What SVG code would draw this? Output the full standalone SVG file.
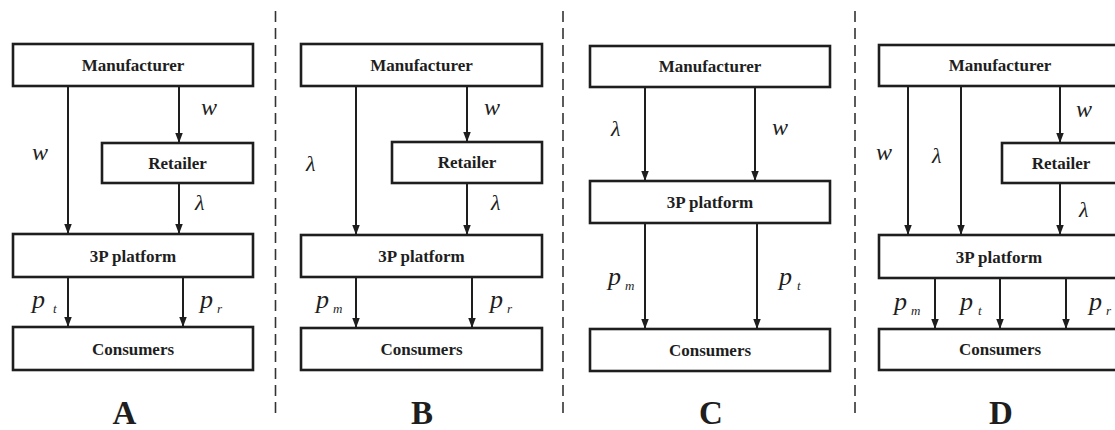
<svg xmlns="http://www.w3.org/2000/svg" width="1115" height="430" viewBox="0 0 1115 430" font-family="'Liberation Serif', 'Times New Roman', Times, serif">
  <style>
    .box { fill: #ffffff; stroke: #1e1e1e; stroke-width: 2.6; }
    .name { font-family: 'Liberation Serif', 'Times New Roman', Times, serif; font-weight: bold; font-size: 17px; fill: #1e1e1e; text-anchor: middle; }
    .flow { stroke: #1e1e1e; stroke-width: 2; fill: none; marker-end: url(#head); }
    .sep { stroke: #333333; stroke-width: 1.6; stroke-dasharray: 11 6; fill: none; }
    .v { font-family: 'Liberation Serif', 'Times New Roman', Times, serif; font-style: italic; font-size: 24px; fill: #1e1e1e; }
    .lam { font-size: 22px; }
    .p { font-size: 26px; }
    .sub { font-family: 'Liberation Serif', 'Times New Roman', Times, serif; font-style: italic; font-size: 13px; fill: #1e1e1e; }
    .tag { font-family: 'Liberation Serif', 'Times New Roman', Times, serif; font-weight: bold; font-size: 33px; fill: #1e1e1e; text-anchor: middle; }
  </style>
  <defs>
    <marker id="head" markerUnits="userSpaceOnUse" markerWidth="10" markerHeight="12" refX="12" refY="4.5" orient="auto" viewBox="0 0 12 9">
      <path d="M0,0 L12,4.5 L0,9 z" fill="#1e1e1e"/>
    </marker>
  </defs>

  <rect width="1115" height="430" fill="#ffffff"/>

  <!-- panel separators -->
  <g id="separators">
    <line class="sep" x1="275.5" y1="11" x2="275.5" y2="413"/>
    <line class="sep" x1="563" y1="11" x2="563" y2="413"/>
    <line class="sep" x1="855" y1="11" x2="855" y2="413"/>
  </g>

  <!-- connectors -->
  <g id="connectors">
    <!-- A -->
    <line class="flow" x1="68" y1="86" x2="68" y2="234"/>
    <line class="flow" x1="179" y1="86" x2="179" y2="143"/>
    <line class="flow" x1="179" y1="183" x2="179" y2="234"/>
    <line class="flow" x1="68" y1="277" x2="68" y2="327"/>
    <line class="flow" x1="183" y1="277" x2="183" y2="327"/>
    <!-- B -->
    <line class="flow" x1="356" y1="86" x2="356" y2="235"/>
    <line class="flow" x1="467" y1="86" x2="467" y2="142"/>
    <line class="flow" x1="467" y1="183" x2="467" y2="235"/>
    <line class="flow" x1="356" y1="277" x2="356" y2="328"/>
    <line class="flow" x1="472" y1="277" x2="472" y2="328"/>
    <!-- C -->
    <line class="flow" x1="645" y1="87" x2="645" y2="181"/>
    <line class="flow" x1="755" y1="87" x2="755" y2="181"/>
    <line class="flow" x1="645" y1="223" x2="645" y2="329"/>
    <line class="flow" x1="757" y1="223" x2="757" y2="329"/>
    <!-- D -->
    <line class="flow" x1="908" y1="86" x2="908" y2="235"/>
    <line class="flow" x1="961" y1="86" x2="961" y2="235"/>
    <line class="flow" x1="1060" y1="86" x2="1060" y2="143"/>
    <line class="flow" x1="1060" y1="183" x2="1060" y2="235"/>
    <line class="flow" x1="935" y1="278" x2="935" y2="329"/>
    <line class="flow" x1="1000" y1="278" x2="1000" y2="329"/>
    <line class="flow" x1="1066" y1="278" x2="1066" y2="329"/>
  </g>

  <!-- flow labels -->
  <g id="flow-labels">
    <!-- A -->
    <text class="v" x="32" y="160">w</text>
    <text class="v" x="201" y="115">w</text>
    <text class="v lam" x="195" y="210">λ</text>
    <text class="v p" x="32" y="308">p</text><text class="sub" x="53" y="313">t</text>
    <text class="v p" x="200" y="308">p</text><text class="sub" x="217" y="313">r</text>
    <!-- B -->
    <text class="v lam" x="306" y="171">λ</text>
    <text class="v" x="484" y="115">w</text>
    <text class="v lam" x="491" y="210">λ</text>
    <text class="v p" x="316" y="308">p</text><text class="sub" x="333" y="313">m</text>
    <text class="v p" x="490" y="308">p</text><text class="sub" x="507" y="313">r</text>
    <!-- C -->
    <text class="v lam" x="611" y="136">λ</text>
    <text class="v" x="772" y="135">w</text>
    <text class="v p" x="608" y="285">p</text><text class="sub" x="625" y="290">m</text>
    <text class="v p" x="779" y="285">p</text><text class="sub" x="797" y="290">t</text>
    <!-- D -->
    <text class="v" x="876" y="160">w</text>
    <text class="v lam" x="932" y="163">λ</text>
    <text class="v" x="1076" y="117">w</text>
    <text class="v lam" x="1079" y="217">λ</text>
    <text class="v p" x="894" y="310">p</text><text class="sub" x="911" y="315">m</text>
    <text class="v p" x="960" y="310">p</text><text class="sub" x="978" y="315">t</text>
    <text class="v p" x="1089" y="310">p</text><text class="sub" x="1106" y="315">r</text>
  </g>

  <!-- panel A -->
  <g id="a-manufacturer"><rect class="box" x="13" y="44" width="240" height="42"/><text class="name" x="133" y="71">Manufacturer</text></g>
  <g id="a-retailer"><rect class="box" x="102" y="143" width="151" height="40"/><text class="name" x="177.5" y="169">Retailer</text></g>
  <g id="a-platform"><rect class="box" x="13" y="234" width="240" height="43"/><text class="name" x="133" y="262">3P platform</text></g>
  <g id="a-consumers"><rect class="box" x="13" y="327" width="240" height="43"/><text class="name" x="133" y="355">Consumers</text></g>

  <!-- panel B -->
  <g id="b-manufacturer"><rect class="box" x="301" y="44" width="241" height="42"/><text class="name" x="421.5" y="71">Manufacturer</text></g>
  <g id="b-retailer"><rect class="box" x="392" y="142" width="150" height="41"/><text class="name" x="467" y="168">Retailer</text></g>
  <g id="b-platform"><rect class="box" x="301" y="235" width="241" height="42"/><text class="name" x="421.5" y="262">3P platform</text></g>
  <g id="b-consumers"><rect class="box" x="301" y="328" width="241" height="42"/><text class="name" x="421.5" y="355">Consumers</text></g>

  <!-- panel C -->
  <g id="c-manufacturer"><rect class="box" x="590" y="46" width="240" height="41"/><text class="name" x="710" y="72">Manufacturer</text></g>
  <g id="c-platform"><rect class="box" x="590" y="181" width="240" height="42"/><text class="name" x="710" y="208">3P platform</text></g>
  <g id="c-consumers"><rect class="box" x="590" y="329" width="240" height="42"/><text class="name" x="710" y="356">Consumers</text></g>

  <!-- panel D -->
  <g id="d-manufacturer"><rect class="box" x="879" y="45" width="242" height="41"/><text class="name" x="1000" y="71">Manufacturer</text></g>
  <g id="d-retailer"><rect class="box" x="1002" y="143" width="119" height="40"/><text class="name" x="1061" y="169">Retailer</text></g>
  <g id="d-platform"><rect class="box" x="879" y="235" width="242" height="43"/><text class="name" x="999" y="263">3P platform</text></g>
  <g id="d-consumers"><rect class="box" x="879" y="329" width="242" height="41"/><text class="name" x="1000" y="355">Consumers</text></g>

  <!-- panel captions -->
  <g id="captions">
    <text class="tag" x="124.5" y="424">A</text>
    <text class="tag" x="422" y="424">B</text>
    <text class="tag" x="711" y="424">C</text>
    <text class="tag" x="1001" y="424">D</text>
  </g>
</svg>
